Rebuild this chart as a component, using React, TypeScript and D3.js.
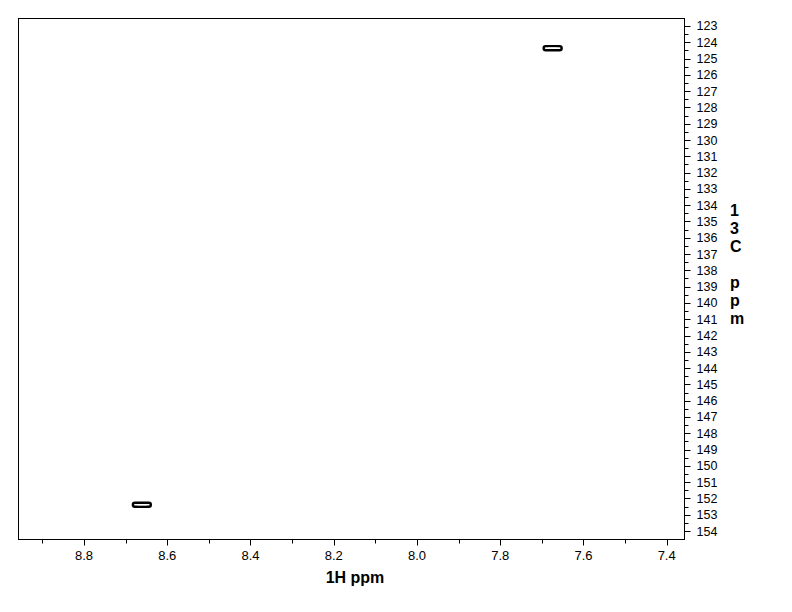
import React, { useEffect, useRef } from 'react';
import * as d3 from 'd3';

// tick labels
const hTicks = [8.8, 8.6, 8.4, 8.2, 8.0, 7.8, 7.6, 7.4];
const hMinor = [8.9, 8.7, 8.5, 8.3, 8.1, 7.9, 7.7, 7.5];
const cTicks = [123, 124, 125, 126, 127, 128, 129, 130, 131, 132, 133, 134, 135, 136, 137, 138,
    139, 140, 141, 142, 143, 144, 145, 146, 147, 148, 149, 150, 151, 152, 153, 154];

// cross peaks (1H ppm, 13C ppm) and contour half widths
const peakH = [7.674, 8.661];
const peakC = [124.36, 152.39];
const outerHalfH = [0.0216, 0.0216];
const outerHalfC = [0.125, 0.125];
const innerHalfH = [0.011, 0.011];

const yLabel = ['1', '3', 'C', '', 'p', 'p', 'm'];

export default function App() {
    const svgRef = useRef<SVGSVGElement | null>(null);

    useEffect(() => {
        if (!svgRef.current) return;
        d3.select(svgRef.current).selectAll("*").remove();

        const width = 792;
        const height = 612;
        const margin = { top: 18, right: 108, bottom: 73, left: 18 };
        const innerWidth = width - margin.left - margin.right;
        const innerHeight = height - margin.top - margin.bottom;
        const font = "'Liberation Sans', Arial, sans-serif";

        const svg = d3.select(svgRef.current)
            .attr("width", width)
            .attr("height", height);

        svg.append("rect").attr("width", width).attr("height", height).attr("fill", "white");

        const g = svg.append("g")
            .attr("transform", `translate(${margin.left},${margin.top})`);

        const x = d3.scaleLinear().domain([8.9586, 7.3584]).range([0, innerWidth]);
        const y = d3.scaleLinear().domain([122.51, 154.49]).range([0, innerHeight]);

        g.append("rect")
            .attr("x", 0.5).attr("y", 0.5)
            .attr("width", innerWidth).attr("height", innerHeight)
            .attr("fill", "none").attr("stroke", "black").attr("stroke-width", 1);

        // x axis
        const xg = g.append("g").attr("transform", `translate(0,${innerHeight + 0.5})`);
        xg.selectAll(".maj").data(hTicks).enter().append("line")
            .attr("x1", d => Math.round(x(d)) + 0.5).attr("x2", d => Math.round(x(d)) + 0.5)
            .attr("y1", 0).attr("y2", 6).attr("stroke", "black");
        xg.selectAll(".min").data(hMinor).enter().append("line")
            .attr("x1", d => Math.round(x(d)) + 0.5).attr("x2", d => Math.round(x(d)) + 0.5)
            .attr("y1", 0).attr("y2", 4).attr("stroke", "black");
        xg.selectAll("text").data(hTicks).enter().append("text")
            .attr("x", d => x(d)).attr("y", 20)
            .attr("text-anchor", "middle")
            .attr("font-family", font).attr("font-size", 13)
            .text(d => d3.format(".1f")(d));

        g.append("text")
            .attr("x", 337).attr("y", innerHeight + 44)
            .attr("text-anchor", "middle")
            .attr("font-family", font).attr("font-size", 16).attr("font-weight", "bold")
            .text("1H ppm");

        // y axis on the right
        const yg = g.append("g").attr("transform", `translate(${innerWidth + 0.5},0)`);
        yg.selectAll(".maj").data(cTicks).enter().append("line")
            .attr("y1", d => Math.round(y(d)) + 0.5).attr("y2", d => Math.round(y(d)) + 0.5)
            .attr("x1", 0).attr("x2", 6).attr("stroke", "black");
        yg.selectAll(".min").data(cTicks.slice(0, -1)).enter().append("line")
            .attr("y1", d => Math.round(y(d + 0.5)) + 0.5).attr("y2", d => Math.round(y(d + 0.5)) + 0.5)
            .attr("x1", 0).attr("x2", 4).attr("stroke", "black");
        yg.selectAll("text").data(cTicks).enter().append("text")
            .attr("x", 12).attr("y", d => y(d))
            .attr("dy", "0.36em")
            .attr("font-family", font).attr("font-size", 12.5)
            .text(d => d);

        g.selectAll(".ylab").data(yLabel).enter().append("text")
            .attr("x", innerWidth + 46)
            .attr("y", (d, i) => 198 + i * 18)
            .attr("font-family", font).attr("font-size", 16).attr("font-weight", "bold")
            .text(d => d);

        // contours
        const peaks = peakH.map((h, i) => ({ h, c: peakC[i], oh: outerHalfH[i], oc: outerHalfC[i], ih: innerHalfH[i] }));
        g.selectAll(".outer").data(peaks).enter().append("rect")
            .attr("x", d => x(d.h + d.oh))
            .attr("y", d => y(d.c - d.oc))
            .attr("width", d => x(d.h - d.oh) - x(d.h + d.oh))
            .attr("height", d => y(d.c + d.oc) - y(d.c - d.oc))
            .attr("rx", 2).attr("ry", 2)
            .attr("fill", "none").attr("stroke", "black").attr("stroke-width", 2.4);
        g.selectAll(".inner").data(peaks).enter().append("line")
            .attr("x1", d => x(d.h + d.ih)).attr("x2", d => x(d.h - d.ih))
            .attr("y1", d => y(d.c)).attr("y2", d => y(d.c))
            .attr("stroke", "white").attr("stroke-width", 1.2);
    }, []);

    return (
        <div style={{ position: 'absolute', left: 0, top: 0 }}>
            <svg ref={svgRef}></svg>
        </div>
    );
}
